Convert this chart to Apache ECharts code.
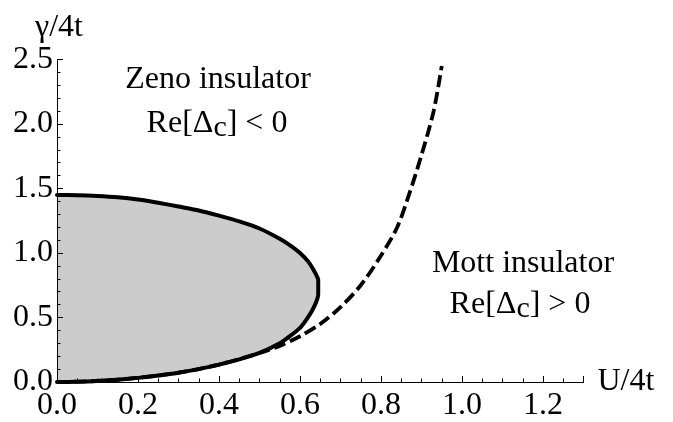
<!DOCTYPE html>
<html>
<head>
<meta charset="utf-8">
<script src="https://cdn.jsdelivr.net/npm/echarts@6/dist/echarts.min.js"></script>
<style>
  html, body { margin: 0; padding: 0; background: #fff; }
  #chart { width: 673px; height: 422px; }
</style>
</head>
<body>
<div id="chart"></div>
<script>
// Upper branch of the phase boundary (gamma/4t vs U/4t)
const upperU = [0, 0.05, 0.1, 0.15, 0.2, 0.25, 0.3, 0.35, 0.4, 0.45, 0.5, 0.55, 0.58, 0.6, 0.62, 0.635, 0.645];
const upperG = [1.45, 1.448, 1.442, 1.432, 1.415, 1.39, 1.36, 1.33, 1.29, 1.245, 1.19, 1.11, 1.05, 1.0, 0.935, 0.86, 0.79];
// Lower branch, traced back from the tip to the origin
const lowerU = [0.645, 0.64, 0.63, 0.615, 0.6, 0.575, 0.55, 0.5, 0.45, 0.4, 0.35, 0.3, 0.25, 0.2, 0.15, 0.1, 0.05, 0];
const lowerG = [0.68, 0.62, 0.555, 0.48, 0.42, 0.355, 0.30, 0.225, 0.175, 0.135, 0.10, 0.072, 0.05, 0.032, 0.018, 0.008, 0.002, 0];
// Dashed crossover line Re[Delta_c] = 0
const dashU = [0, 0.1, 0.2, 0.3, 0.4, 0.5, 0.55, 0.6, 0.65, 0.7, 0.75, 0.8, 0.84, 0.87, 0.9, 0.93, 0.95];
const dashG = [0, 0.008, 0.032, 0.072, 0.135, 0.225, 0.28, 0.355, 0.45, 0.58, 0.75, 0.98, 1.2, 1.46, 1.76, 2.1, 2.45];

const xTicks = { min: 0, max: 1.3, interval: 0.2 };
const yTicks = { min: 0, max: 2.5, interval: 0.5 };

const zip = (a, b) => a.map((v, i) => [v, b[i]]);
const boundary = zip(upperU, upperG).concat(zip(lowerU, lowerG));

const serif = '"Liberation Serif", "Times New Roman", serif';

const chart = echarts.init(document.getElementById('chart'), null, { renderer: 'canvas' });

// two-line region annotation with a subscripted Delta_c
function regionCondition(text, x, y) {
  return {
    type: 'text', z: 10,
    style: {
      text: text, x: x, y: y, align: 'center', verticalAlign: 'middle',
      rich: {
        n: { fontFamily: serif, fontSize: 32, color: '#000', lineHeight: 38, verticalAlign: 'middle' },
        s: { fontFamily: serif, fontSize: 30, color: '#000', lineHeight: 28, verticalAlign: 'bottom' }
      }
    }
  };
}

chart.setOption({
  animation: false,
  backgroundColor: '#fff',
  grid: { left: 57, right: 89.5, top: 59.5, bottom: 40, containLabel: false },
  xAxis: {
    type: 'value',
    min: xTicks.min, max: xTicks.max, interval: xTicks.interval,
    name: 'U/4t',
    nameLocation: 'end',
    nameGap: 14,
    nameTextStyle: { fontFamily: serif, fontSize: 32, color: '#000', align: 'left', verticalAlign: 'middle' },
    z: 5,
    axisLine: { show: true, onZero: false, lineStyle: { color: '#000', width: 1 } },
    axisTick: { show: true, inside: true, length: 6, lineStyle: { color: '#000', width: 1 } },
    minorTick: { show: true, splitNumber: 4, length: 3.5, lineStyle: { color: '#000', width: 1 } },
    splitLine: { show: false },
    axisLabel: {
      fontFamily: serif, fontSize: 32, color: '#000', margin: 8, showMaxLabel: false,
      formatter: v => v.toFixed(1)
    }
  },
  yAxis: {
    type: 'value',
    min: yTicks.min, max: yTicks.max, interval: yTicks.interval,
    name: 'γ/4t',
    nameLocation: 'end',
    nameGap: 15,
    nameTextStyle: { fontFamily: serif, fontSize: 32, color: '#000', align: 'center', padding: [0, 0, 0, 4] },
    z: 5,
    axisLine: { show: true, onZero: false, lineStyle: { color: '#000', width: 1 } },
    axisTick: { show: true, inside: true, length: 6, lineStyle: { color: '#000', width: 1 } },
    minorTick: { show: true, splitNumber: 5, length: 3.5, lineStyle: { color: '#000', width: 1 } },
    splitLine: { show: false },
    axisLabel: {
      fontFamily: serif, fontSize: 32, color: '#000', margin: 4,
      formatter: v => v.toFixed(1)
    }
  },
  series: [
    {
      // shaded region enclosed by the boundary
      type: 'custom',
      z: 1,
      data: [[0, 0]],
      clip: true,
      renderItem: function (params, api) {
        const pts = boundary.map(p => api.coord(p));
        return { type: 'polygon', shape: { points: pts }, style: { fill: '#cccccc', stroke: null } };
      },
      silent: true
    },
    {
      type: 'line',
      z: 6,
      data: zip(dashU, dashG),
      showSymbol: false,
      smooth: 0.3,
      lineStyle: { color: '#000', width: 3.8, type: [12, 5] },
      silent: true
    },
    {
      type: 'line',
      z: 7,
      data: boundary,
      showSymbol: false,
      smooth: 0.2,
      lineStyle: { color: '#000', width: 4, cap: 'round', join: 'round' },
      silent: true
    }
  ],
  graphic: [
    {
      type: 'text', z: 10,
      style: { text: 'Zeno insulator', x: 218, y: 80, font: '32px ' + serif, fill: '#000', align: 'center', verticalAlign: 'middle' }
    },
    regionCondition('{n|Re[Δ}{s|c}{n|] < 0}', 217, 124),
    {
      type: 'text', z: 10,
      style: { text: 'Mott insulator', x: 523, y: 264, font: '32px ' + serif, fill: '#000', align: 'center', verticalAlign: 'middle' }
    },
    regionCondition('{n|Re[Δ}{s|c}{n|] > 0}', 520, 305)
  ]
});
</script>
</body>
</html>
